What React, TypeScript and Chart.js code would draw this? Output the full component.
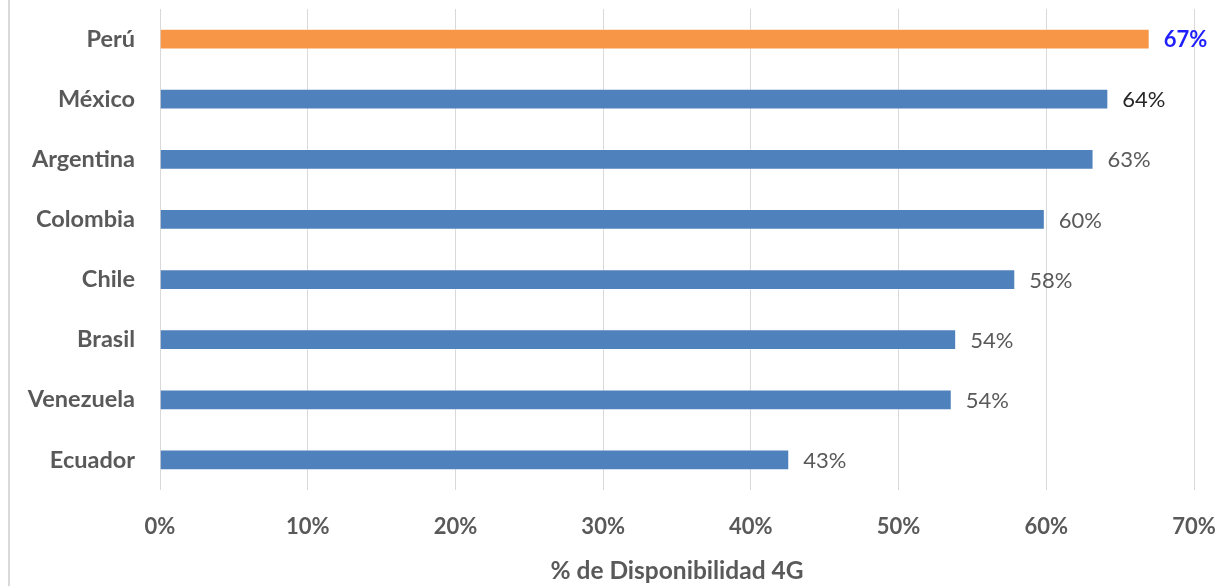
import React, { useEffect, useRef } from "react";
import { Chart, registerables } from "chart.js";

Chart.register(...registerables);

const categories = ["Perú", "México", "Argentina", "Colombia", "Chile", "Brasil", "Venezuela", "Ecuador"];
const values = [67.0, 64.2, 63.2, 59.9, 57.9, 53.9, 53.6, 42.6];
const valueLabels = ["67%", "64%", "63%", "60%", "58%", "54%", "54%", "43%"];
const barColors = ["#F79646", "#4F81BD", "#4F81BD", "#4F81BD", "#4F81BD", "#4F81BD", "#4F81BD", "#4F81BD"];
const labelColors = ["#1F1FFF", "#262626", "#595959", "#595959", "#595959", "#595959", "#595959", "#595959"];
const labelWeights = ["bold", "normal", "normal", "normal", "normal", "normal", "normal", "normal"];
const xTicks = [0, 10, 20, 30, 40, 50, 60, 70];
const xTitle = "% de Disponibilidad 4G";

const FONT = "Lato, 'Noto Sans', sans-serif";

const valueLabelPlugin = {
  id: "valueLabels",
  afterDatasetsDraw(chart: any) {
    const ctx = chart.ctx;
    const meta = chart.getDatasetMeta(0);
    ctx.save();
    ctx.textAlign = "left";
    ctx.textBaseline = "middle";
    meta.data.forEach((bar: any, i: number) => {
      ctx.font = `${labelWeights[i]} 22px ${FONT}`;
      ctx.fillStyle = labelColors[i];
      ctx.fillText(valueLabels[i], bar.x + 14, bar.y + 1);
    });
    ctx.restore();
  },
};

const borderPlugin = {
  id: "leftBorder",
  beforeDraw(chart: any) {
    const ctx = chart.ctx;
    ctx.save();
    ctx.fillStyle = "#FFFFFF";
    ctx.fillRect(0, 0, chart.width, chart.height);
    ctx.fillStyle = "#D9D9D9";
    ctx.fillRect(8, 0, 2, chart.height);
    ctx.restore();
  },
};

export default function App() {
  const ref = useRef<HTMLCanvasElement>(null);

  useEffect(() => {
    if (!ref.current) return;
    const chart = new Chart(ref.current, {
      type: "bar",
      data: {
        labels: categories,
        datasets: [
          {
            data: values,
            backgroundColor: barColors,
            borderColor: "rgba(255,255,255,0.35)",
            borderWidth: 1,
            barPercentage: 0.345,
            categoryPercentage: 1,
          },
        ],
      },
      options: {
        indexAxis: "y",
        animation: false,
        responsive: false,
        devicePixelRatio: 1,
        layout: { padding: { top: 9, right: 37, left: 0, bottom: 0 } },
        plugins: {
          legend: { display: false },
          tooltip: { enabled: false },
        },
        scales: {
          x: {
            min: 0,
            max: 70,
            afterFit: (scale: any) => {
              scale.height = 96;
              scale.paddingLeft = 0;
              scale.paddingRight = 0;
              scale.paddingTop = 0;
              scale.paddingBottom = 0;
            },
            afterBuildTicks: (scale: any) => {
              scale.ticks = xTicks.map((v) => ({ value: v }));
            },
            ticks: {
              callback: (v: any) => `${v}%`,
              color: "#595959",
              font: { family: FONT, size: 22, weight: "bold" },
              padding: 24,
              maxRotation: 0,
            },
            grid: { color: "#D9D9D9", lineWidth: 1, drawTicks: false },
            border: { display: false },
            title: {
              display: true,
              text: xTitle,
              color: "#595959",
              font: { family: FONT, size: 24.5, weight: "bold" },
              padding: { top: 0, bottom: 0 },
            },
          },
          y: {
            afterFit: (scale: any) => {
              scale.width = 160;
              scale.paddingLeft = 0;
              scale.paddingRight = 0;
              scale.paddingTop = 0;
              scale.paddingBottom = 0;
            },
            ticks: {
              color: "#595959",
              font: { family: FONT, size: 23.5, weight: "bold" },
              padding: 25,
            },
            grid: { display: false, drawTicks: false },
            border: { display: false },
          },
        },
      },
      plugins: [borderPlugin, valueLabelPlugin],
    });
    return () => chart.destroy();
  }, []);

  return (
    <div style={{ position: "absolute", left: 0, top: 0, width: 1231, height: 586, background: "#fff" }}>
      <canvas ref={ref} width={1231} height={586} style={{ display: "block" }} />
    </div>
  );
}
